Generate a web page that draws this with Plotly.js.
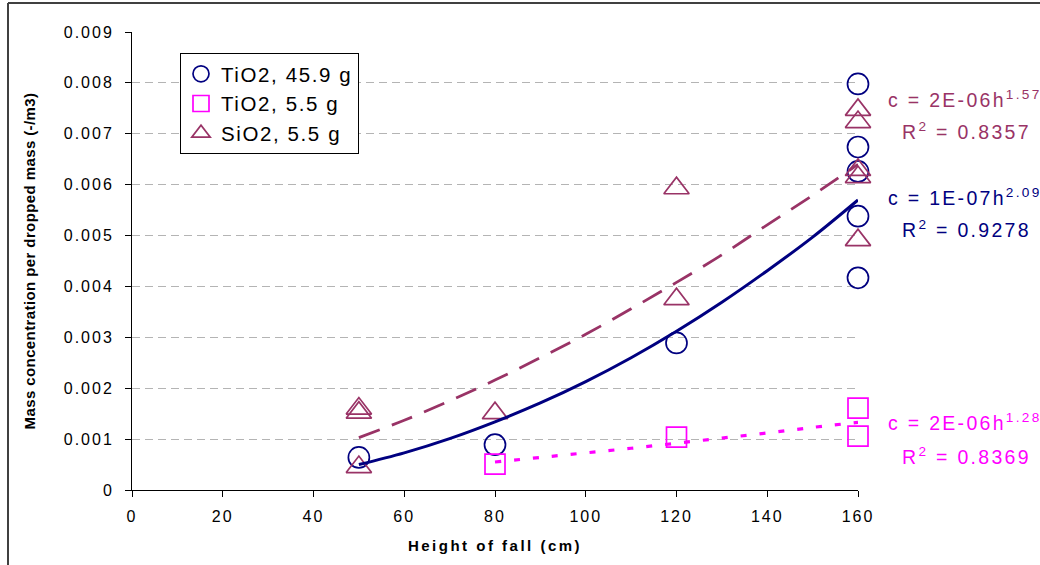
<!DOCTYPE html>
<html>
<head>
<meta charset="utf-8">
<script src="https://cdn.plot.ly/plotly-3.0.1.min.js"></script>
<style>
  html, body { margin: 0; padding: 0; background: #fff; }
  #chart { width: 1040px; height: 565px; }
  .xtick text, .ytick text { letter-spacing: 2px; }
  .g-xtitle text { letter-spacing: 2.5px; }
  .g-ytitle text { letter-spacing: 0.4px; }
  .legendtext { letter-spacing: 1.6px; }
  .annotation-text { letter-spacing: 2.3px; }
</style>
</head>
<body>
<div id="chart"></div>
<script>
// ---- data ----
// TiO2, 45.9 g (circles)
const tio2BigX = [50, 80, 120, 160, 160, 160, 160, 160];
const tio2BigY = [0.00064, 0.00089, 0.00289, 0.00798, 0.00674, 0.00626, 0.00538, 0.00417];
// TiO2, 5.5 g (squares)
const tio2SmallX = [80, 120, 160, 160];
const tio2SmallY = [0.00051, 0.00104, 0.00161, 0.00106];
// SiO2, 5.5 g (triangles)
const sio2X = [50, 50, 50, 80, 120, 120, 160, 160, 160, 160, 160];
const sio2Y = [0.00160, 0.00152, 0.00045, 0.00151, 0.00593, 0.00375, 0.00747, 0.00723, 0.00629, 0.00615, 0.00491];

// trend lines
const trendBigX = [50, 60, 70, 80, 90, 100, 110, 120, 130, 140, 150, 160];
const trendBigY = [0.00050, 0.00073, 0.00101, 0.00134, 0.00171, 0.00213, 0.00260, 0.00312, 0.00369, 0.00431, 0.00497, 0.00570];
const trendSiX = [50, 60, 70, 80, 90, 100, 110, 120, 130, 140, 150, 160];
const trendSiY = [0.00103, 0.00137, 0.00175, 0.00216, 0.00260, 0.00306, 0.00356, 0.00408, 0.00462, 0.00521, 0.00579, 0.00640];
const trendSmallX = [80, 90, 100, 110, 120, 130, 140, 150, 160];
const trendSmallY = [0.00055, 0.00064, 0.00073, 0.00082, 0.00092, 0.00102, 0.00112, 0.00123, 0.00133];

const seriesNames = ['TiO2, 45.9 g', 'TiO2, 5.5 g', 'SiO2, 5.5 g'];
const xTickVals = [0, 20, 40, 60, 80, 100, 120, 140, 160];
const yTickVals = [0, 0.001, 0.002, 0.003, 0.004, 0.005, 0.006, 0.007, 0.008, 0.009];
const yTickText = ['0', '0.001', '0.002', '0.003', '0.004', '0.005', '0.006', '0.007', '0.008', '0.009'];

const eqTexts = [
  ['c = 2E-06h<sup>1.57</sup>', 'R<sup>2</sup> = 0.8357'],
  ['c = 1E-07h<sup>2.09</sup>', 'R<sup>2</sup> = 0.9278'],
  ['c = 2E-06h<sup>1.28</sup>', 'R<sup>2</sup> = 0.8369']
];

// ---- styles ----
const NAVY = '#000080', MAG = '#FF00FF', PLUM = '#993366';
const W = 1040, H = 565;
const M = {l: 132, r: 182, t: 32, b: 75};
const PW = W - M.l - M.r, PH = H - M.t - M.b;
const px2x = p => (p - M.l) / PW;
const py2y = p => (H - M.b - p) / PH;

const traces = [
  {x: tio2BigX, y: tio2BigY, name: seriesNames[0], mode: 'markers', type: 'scatter', cliponaxis: false,
   marker: {symbol: 'circle-open', size: 21, color: NAVY, line: {width: 1.7, color: NAVY}}},
  {x: tio2SmallX, y: tio2SmallY, name: seriesNames[1], mode: 'markers', type: 'scatter', cliponaxis: false,
   marker: {symbol: 'square-open', size: 20, color: MAG, line: {width: 1.7, color: MAG}}},
  {x: sio2X, y: sio2Y, name: seriesNames[2], mode: 'markers', type: 'scatter', cliponaxis: false,
   marker: {symbol: 'triangle-up-open', size: 22, color: PLUM, line: {width: 1.7, color: PLUM}}},
  {x: trendBigX, y: trendBigY, mode: 'lines', type: 'scatter', showlegend: false, hoverinfo: 'skip',
   line: {color: NAVY, width: 3, shape: 'spline'}},
  {x: trendSiX, y: trendSiY, mode: 'lines', type: 'scatter', showlegend: false, hoverinfo: 'skip',
   line: {color: PLUM, width: 2.8, dash: '22px,13px', shape: 'spline'}},
  {x: trendSmallX, y: trendSmallY, mode: 'lines', type: 'scatter', showlegend: false, hoverinfo: 'skip',
   line: {color: MAG, width: 3.2, dash: '6px,13px', shape: 'spline'}}
];

const eqColors = [PLUM, NAVY, MAG];
const eqY = [[99, 131], [197, 229], [422, 456]];
const annotations = [];
eqTexts.forEach((pair, i) => {
  annotations.push({xref: 'paper', yref: 'paper', x: px2x(886), y: py2y(eqY[i][0]), xanchor: 'left', yanchor: 'middle',
    text: pair[0], showarrow: false, font: {family: 'Liberation Sans, Arial', size: 19.5, color: eqColors[i]}});
  annotations.push({xref: 'paper', yref: 'paper', x: px2x(900), y: py2y(eqY[i][1]), xanchor: 'left', yanchor: 'middle',
    text: pair[1], showarrow: false, font: {family: 'Liberation Sans, Arial', size: 19.5, color: eqColors[i]}});
});

const layout = {
  width: W, height: H,
  margin: M,
  paper_bgcolor: '#ffffff', plot_bgcolor: '#ffffff',
  font: {family: 'Liberation Sans, Arial', color: '#000'},
  showlegend: true,
  legend: {x: px2x(180), y: py2y(53), xanchor: 'left', yanchor: 'top',
    bgcolor: '#ffffff', bordercolor: '#000', borderwidth: 1,
    font: {size: 20.5, color: '#000'}, itemwidth: 30, tracegroupgap: 0},
  xaxis: {range: [0, 160], tickvals: xTickVals, ticks: 'outside', ticklen: 6, tickcolor: '#000',
    showline: true, linecolor: '#000', linewidth: 1, showgrid: false, zeroline: false,
    tickfont: {size: 16, color: '#000'}, ticklabelstandoff: 6,
    title: {text: '<b>Height of fall (cm)</b>', font: {size: 15, color: '#000'}, standoff: 16}},
  yaxis: {range: [0, 0.009], tickvals: yTickVals, ticktext: yTickText, ticks: 'outside', ticklen: 6, tickcolor: '#000',
    showline: true, linecolor: '#000', linewidth: 1, showgrid: true, gridcolor: '#b4b4b4', griddash: '8px,5px',
    gridwidth: 1, zeroline: false,
    tickfont: {size: 16, color: '#000'}, ticklabelstandoff: 8,
    title: {text: '<b>Mass concentration per dropped mass (-/m3)</b>', font: {size: 15, color: '#000'}, standoff: 24}},
  shapes: [
    {type: 'line', xref: 'paper', yref: 'paper', x0: px2x(8), x1: px2x(8), y0: py2y(3), y1: py2y(600),
     line: {color: '#404040', width: 2}},
    {type: 'line', xref: 'paper', yref: 'paper', x0: px2x(8), x1: px2x(1100), y0: py2y(3), y1: py2y(3),
     line: {color: '#404040', width: 2}}
  ],
  annotations: annotations
};

Plotly.newPlot('chart', traces, layout, {displayModeBar: false, staticPlot: true});
</script>
</body>
</html>
